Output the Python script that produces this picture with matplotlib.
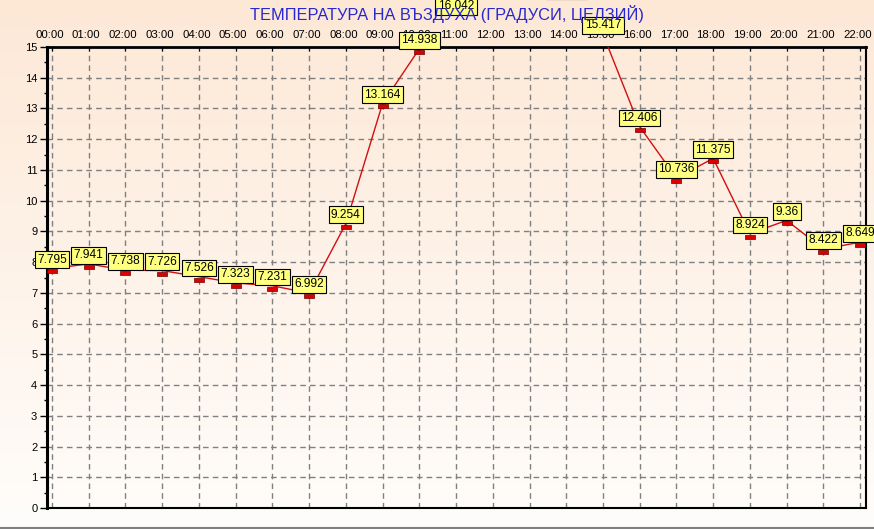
import numpy as np
import matplotlib
matplotlib.use("Agg")
import matplotlib.pyplot as plt
import matplotlib.transforms as mtransforms
from matplotlib.path import Path
from matplotlib.colors import LinearSegmentedColormap

# ---- data ----
hours = ["00:00", "01:00", "02:00", "03:00", "04:00", "05:00", "06:00", "07:00",
         "08:00", "09:00", "10:00", "11:00", "12:00", "13:00", "14:00", "15:00",
         "16:00", "17:00", "18:00", "19:00", "20:00", "21:00", "22:00"]
temps = [7.795, 7.941, 7.738, 7.726, 7.526, 7.323, 7.231, 6.992,
         9.254, 13.164, 14.938, 16.042, 16.8, 16.9, 16.536, 15.417,
         12.406, 10.736, 11.375, 8.924, 9.36, 8.422, 8.649]
# labels of 12:00 and 13:00 fall outside the picture in the reference
labels = ["7.795", "7.941", "7.738", "7.726", "7.526", "7.323", "7.231", "6.992",
          "9.254", "13.164", "14.938", "16.042", "", "", "16.536", "15.417",
          "12.406", "10.736", "11.375", "8.924", "9.36", "8.422", "8.649"]
yticks = list(range(0, 16))
title = "ТЕМПЕРАТУРА НА ВЪЗДУХА (ГРАДУСИ, ЦЕЛЗИЙ)"

W, H = 874, 529
fig = plt.figure(figsize=(W / 100, H / 100), dpi=100)

# background gradient over whole figure
bg = fig.add_axes([0, 0, 1, 1], zorder=-10)
cmap = LinearSegmentedColormap.from_list("bg", ["#FFFDFB", "#FDE8D6"])
grad = np.linspace(0, 1, 256).reshape(-1, 1)
bg.imshow(grad, aspect="auto", cmap=cmap, origin="lower", extent=[0, 1, 0, 1])
bg.plot([0, 1], [0.002, 0.002], color="#808080", lw=1.5)
bg.set_xlim(0, 1); bg.set_ylim(0, 1)
bg.axis("off")

left, right, top, bottom = 47, 866, 47, 508
ax = fig.add_axes([left / W, (H - bottom) / H, (right - left) / W, (bottom - top) / H])
ax.patch.set_alpha(0)

x = np.arange(len(hours))
ax.set_xlim(-0.136, 22.16)
ax.set_ylim(0, 15)

# grid
for xi in x:
    ax.axvline(xi, color="#808080", lw=1, ls=(0, (4, 3)), zorder=1)
for yi in yticks:
    ax.axhline(yi, color="#808080", lw=1, ls=(0, (4, 3)), zorder=1)

# line + markers
ax.plot(x, temps, color="#D01010", lw=1, zorder=3)
rect = Path([(-1, -0.2), (1, -0.2), (1, -1), (-1, -1), (-1, -0.2)],
            [Path.MOVETO, Path.LINETO, Path.LINETO, Path.LINETO, Path.CLOSEPOLY])
ax.plot(x, temps, ls="none", marker=rect, markersize=6.5, markerfacecolor="#DD0000",
        markeredgecolor="#700000", markeredgewidth=0.5, zorder=4)

# data labels
for xi, yi, lab in zip(x, temps, labels):
    if not lab:
        continue
    ax.annotate(lab, (xi, yi), xytext=(0, 2.0), textcoords="offset points",
                ha="center", va="bottom", fontsize=8.6, family="Liberation Sans",
                annotation_clip=False, zorder=6,
                bbox=dict(boxstyle="square,pad=0.2", fc="#FFFF80", ec="black", lw=0.8))

# spines
ax.spines["left"].set_linewidth(2.2)
ax.spines["left"].set_color("black")
ax.spines["right"].set_linewidth(1.5)
ax.spines["right"].set_color("black")
ax.spines["top"].set_linewidth(2)
ax.spines["top"].set_linestyle((0, (3, 1)))
ax.spines["bottom"].set_linewidth(1.5)
ax.spines["bottom"].set_linestyle((0, (3, 1)))

# ticks
ax.set_yticks(yticks)
ax.set_yticklabels([str(v) for v in yticks], fontsize=8, family="Liberation Sans")
ax.set_yticks(np.arange(0.5, 15, 1), minor=True)
ax.tick_params(axis="y", which="major", length=5, width=1, pad=2)
ax.tick_params(axis="y", which="minor", length=2.5, width=1)
ax.set_xticks(x)
ax.set_xticklabels(hours, fontsize=8.2, family="Liberation Sans")
ax.xaxis.tick_top()
ax.tick_params(axis="x", which="major", direction="in", length=3, pad=5)
shift = mtransforms.ScaledTranslation(-2.5 / 100, 0, fig.dpi_scale_trans)
for lbl in ax.get_xticklabels():
    lbl.set_transform(lbl.get_transform() + shift)

fig.text(447 / W, 1 - 14 / H, title, ha="center", va="center", color="#2828D0",
         fontsize=11.8, family="Liberation Sans")

fig.savefig("out.png", dpi=100)
